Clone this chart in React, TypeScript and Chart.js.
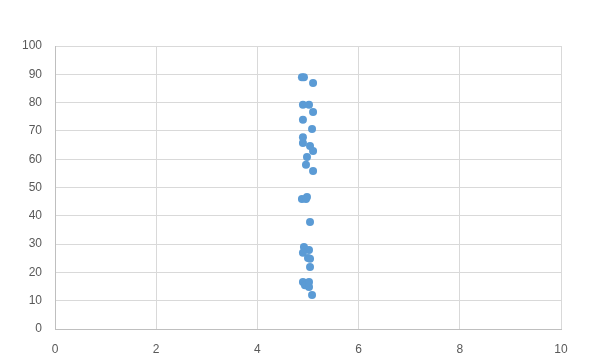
import React, { useEffect, useRef } from "react";
import { Chart, registerables } from "chart.js";

Chart.register(...registerables);

const xValues = [4.88, 4.92, 5.1, 4.9, 5.02, 5.1, 4.9, 5.08, 4.9, 4.9, 5.04, 5.1, 4.98, 4.96, 5.1, 4.88, 4.98, 4.96, 5.04, 4.92, 5.02, 4.9, 5.0, 5.04, 5.04, 4.9, 4.94, 5.02, 5.02, 5.08];
const yValues = [89.0, 89.0, 86.9, 79.2, 79.2, 76.7, 73.9, 70.7, 67.8, 65.7, 64.7, 62.9, 60.8, 58.0, 55.8, 45.9, 46.6, 45.9, 37.8, 29.0, 27.9, 26.9, 25.1, 24.8, 21.9, 16.6, 15.5, 16.6, 14.8, 12.0];
const xTicks = [0, 2, 4, 6, 8, 10];
const yTicks = [0, 10, 20, 30, 40, 50, 60, 70, 80, 90, 100];

export default function App() {
  const ref = useRef<HTMLCanvasElement | null>(null);
  useEffect(() => {
    if (!ref.current) return;
    const points = xValues.map((x, i) => ({ x, y: yValues[i] }));
    const chart = new Chart(ref.current, {
      type: "scatter",
      data: {
        datasets: [
          {
            data: points,
            backgroundColor: "#5b9bd5",
            borderColor: "#5b9bd5",
            pointRadius: 4,
            borderWidth: 0,
          },
        ],
      },
      options: {
        responsive: false,
        animation: false,
        layout: { padding: { left: 0, right: 35, top: 46, bottom: 0 } },
        plugins: { legend: { display: false }, tooltip: { enabled: false } },
        scales: {
          x: {
            type: "linear",
            min: 0,
            max: 10,
            afterBuildTicks: (axis: any) => {
              axis.ticks = xTicks.map((v) => ({ value: v }));
            },
            afterFit: (axis: any) => {
              axis.height = 28;
            },
            grid: { color: "#d9d9d9", drawTicks: false },
            border: { color: "#bfbfbf" },
            ticks: {
              color: "#595959",
              font: { family: "Liberation Sans", size: 12 },
              padding: 13,
              maxRotation: 0,
            },
          },
          y: {
            type: "linear",
            min: 0,
            max: 100,
            afterBuildTicks: (axis: any) => {
              axis.ticks = yTicks.map((v) => ({ value: v }));
            },
            afterFit: (axis: any) => {
              axis.width = 55;
            },
            grid: { color: "#d9d9d9", drawTicks: false },
            border: { color: "#bfbfbf" },
            ticks: {
              color: "#595959",
              font: { family: "Liberation Sans", size: 12 },
              padding: 13,
            },
          },
        },
      },
    });
    return () => chart.destroy();
  }, []);
  return (
    <div style={{ position: "absolute", left: 0, top: 0, width: 596, height: 357, background: "#fff" }}>
      <canvas ref={ref} width={596} height={357} />
    </div>
  );
}
